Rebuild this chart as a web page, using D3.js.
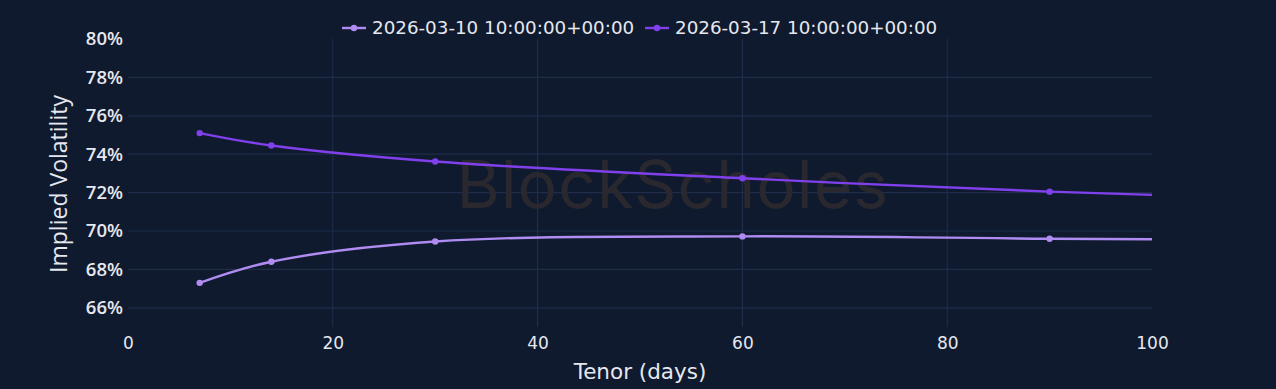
<!DOCTYPE html>
<html>
<head>
<meta charset="utf-8">
<script src="https://cdn.jsdelivr.net/npm/d3@7"></script>
<style>
  html, body { margin: 0; padding: 0; background: #0f1a2e; }
  svg { display: block; }
</style>
</head>
<body>
<div id="chart"></div>
<script>
// data
const seriesNames = ["2026-03-10 10:00:00+00:00", "2026-03-17 10:00:00+00:00"];
const tenors = [7, 14, 30, 60, 90, 180];
const volA = [67.3, 68.4, 69.45, 69.72, 69.6, 69.35];
const volB = [75.1, 74.45, 73.62, 72.75, 72.05, 70.6];
const xTicks = [0, 20, 40, 60, 80, 100];
const yTicks = [66, 68, 70, 72, 74, 76, 78, 80];

const colors = ["#b08cf2", "#8040ec"];
const W = 1276, H = 389;
const margin = {top: 39, right: 124, bottom: 62, left: 128};
const width = W - margin.left - margin.right;
const height = H - margin.top - margin.bottom;

const svg = d3.select("#chart").append("svg")
    .attr("width", W)
    .attr("height", H);

svg.append("rect").attr("width", W).attr("height", H).attr("fill", "#0f1a2e");

const g = svg.append("g")
    .attr("transform", `translate(${margin.left},${margin.top})`);

const x = d3.scaleLinear().domain([0, 100]).range([0, width]);
const y = d3.scaleLinear().domain([65, 80]).range([height, 0]);

// grid
g.append("g")
  .selectAll("line")
  .data(yTicks.filter(d => d < 80))
  .enter().append("line")
    .attr("x1", 0).attr("x2", width)
    .attr("y1", d => y(d)).attr("y2", d => y(d))
    .attr("stroke", "#1f2c4a").attr("stroke-width", 1.2);

g.append("g")
  .selectAll("line")
  .data(xTicks.filter(d => d > 0 && d < 100))
  .enter().append("line")
    .attr("x1", d => x(d)).attr("x2", d => x(d))
    .attr("y1", 0).attr("y2", height)
    .attr("stroke", "#1f2c4a").attr("stroke-width", 1.2);

// watermark
g.append("text")
    .attr("x", x(53.2)).attr("y", y(72.15))
    .attr("text-anchor", "middle")
    .attr("dominant-baseline", "middle")
    .attr("font-family", "Inter, 'Noto Sans', sans-serif")
    .attr("font-size", 66)
    .attr("letter-spacing", 1)
    .attr("fill", "#28282e")
    .text("BlockScholes");

// axes
const yAxis = g.append("g")
    .call(d3.axisLeft(y).tickValues(yTicks).tickFormat(d => d + "%").tickSize(0).tickPadding(5));
yAxis.select(".domain").remove();
yAxis.selectAll("text")
    .attr("font-family", "'Open Sans', sans-serif")
    .attr("font-weight", 600)
    .attr("font-size", 18.5)
    .attr("fill", "#e6e8ee");

const xAxis = g.append("g")
    .attr("transform", `translate(0,${height})`)
    .call(d3.axisBottom(x).tickValues(xTicks).tickSize(0).tickPadding(10));
xAxis.select(".domain").remove();
xAxis.selectAll("text")
    .attr("font-family", "'DejaVu Sans', sans-serif")
    .attr("font-size", 17)
    .attr("fill", "#e6e8ee");

svg.append("text")
    .attr("x", margin.left + width / 2)
    .attr("y", 379)
    .attr("text-anchor", "middle")
    .attr("font-family", "'DejaVu Sans', sans-serif")
    .attr("font-size", 21.5)
    .attr("fill", "#e6e8ee")
    .text("Tenor (days)");

svg.append("text")
    .attr("transform", "translate(67,184) rotate(-90)")
    .attr("text-anchor", "middle")
    .attr("font-family", "'Open Sans', sans-serif")
    .attr("font-size", 23)
    .attr("fill", "#e6e8ee")
    .text("Implied Volatility");

// lines
svg.append("clipPath").attr("id", "clip")
  .append("rect").attr("width", width).attr("height", height);

const series = [volA, volB].map((vals, i) => ({
    name: seriesNames[i],
    color: colors[i],
    values: tenors.map((t, j) => ({t: t, v: vals[j]}))
}));

const line = d3.line()
    .x(d => x(d.t))
    .y(d => y(d.v))
    .curve(d3.curveCatmullRom.alpha(0.5));

const plot = g.append("g").attr("clip-path", "url(#clip)");

const sg = plot.selectAll("g.series")
  .data(series)
  .enter().append("g").attr("class", "series");

sg.append("path")
    .attr("d", d => line(d.values))
    .attr("fill", "none")
    .attr("stroke", d => d.color)
    .attr("stroke-width", 2.4);

sg.selectAll("circle")
  .data(d => d.values.map(v => ({...v, color: d.color})))
  .enter().append("circle")
    .attr("cx", d => x(d.t))
    .attr("cy", d => y(d.v))
    .attr("r", 3.2)
    .attr("fill", d => d.color);

// legend
const legendX = [342, 645];
const legend = svg.append("g")
  .selectAll("g")
  .data(series)
  .enter().append("g")
    .attr("transform", (d, i) => `translate(${legendX[i]},28)`);

legend.append("line")
    .attr("x1", 0).attr("x2", 24)
    .attr("stroke", d => d.color).attr("stroke-width", 2.4);
legend.append("circle")
    .attr("cx", 12).attr("r", 3.2).attr("fill", d => d.color);
legend.append("text")
    .attr("x", 30).attr("dy", "0.35em")
    .attr("font-family", "'DejaVu Sans', sans-serif")
    .attr("font-size", 18.3)
    .attr("fill", "#e6e8ee")
    .text(d => d.name);
</script>
</body>
</html>
